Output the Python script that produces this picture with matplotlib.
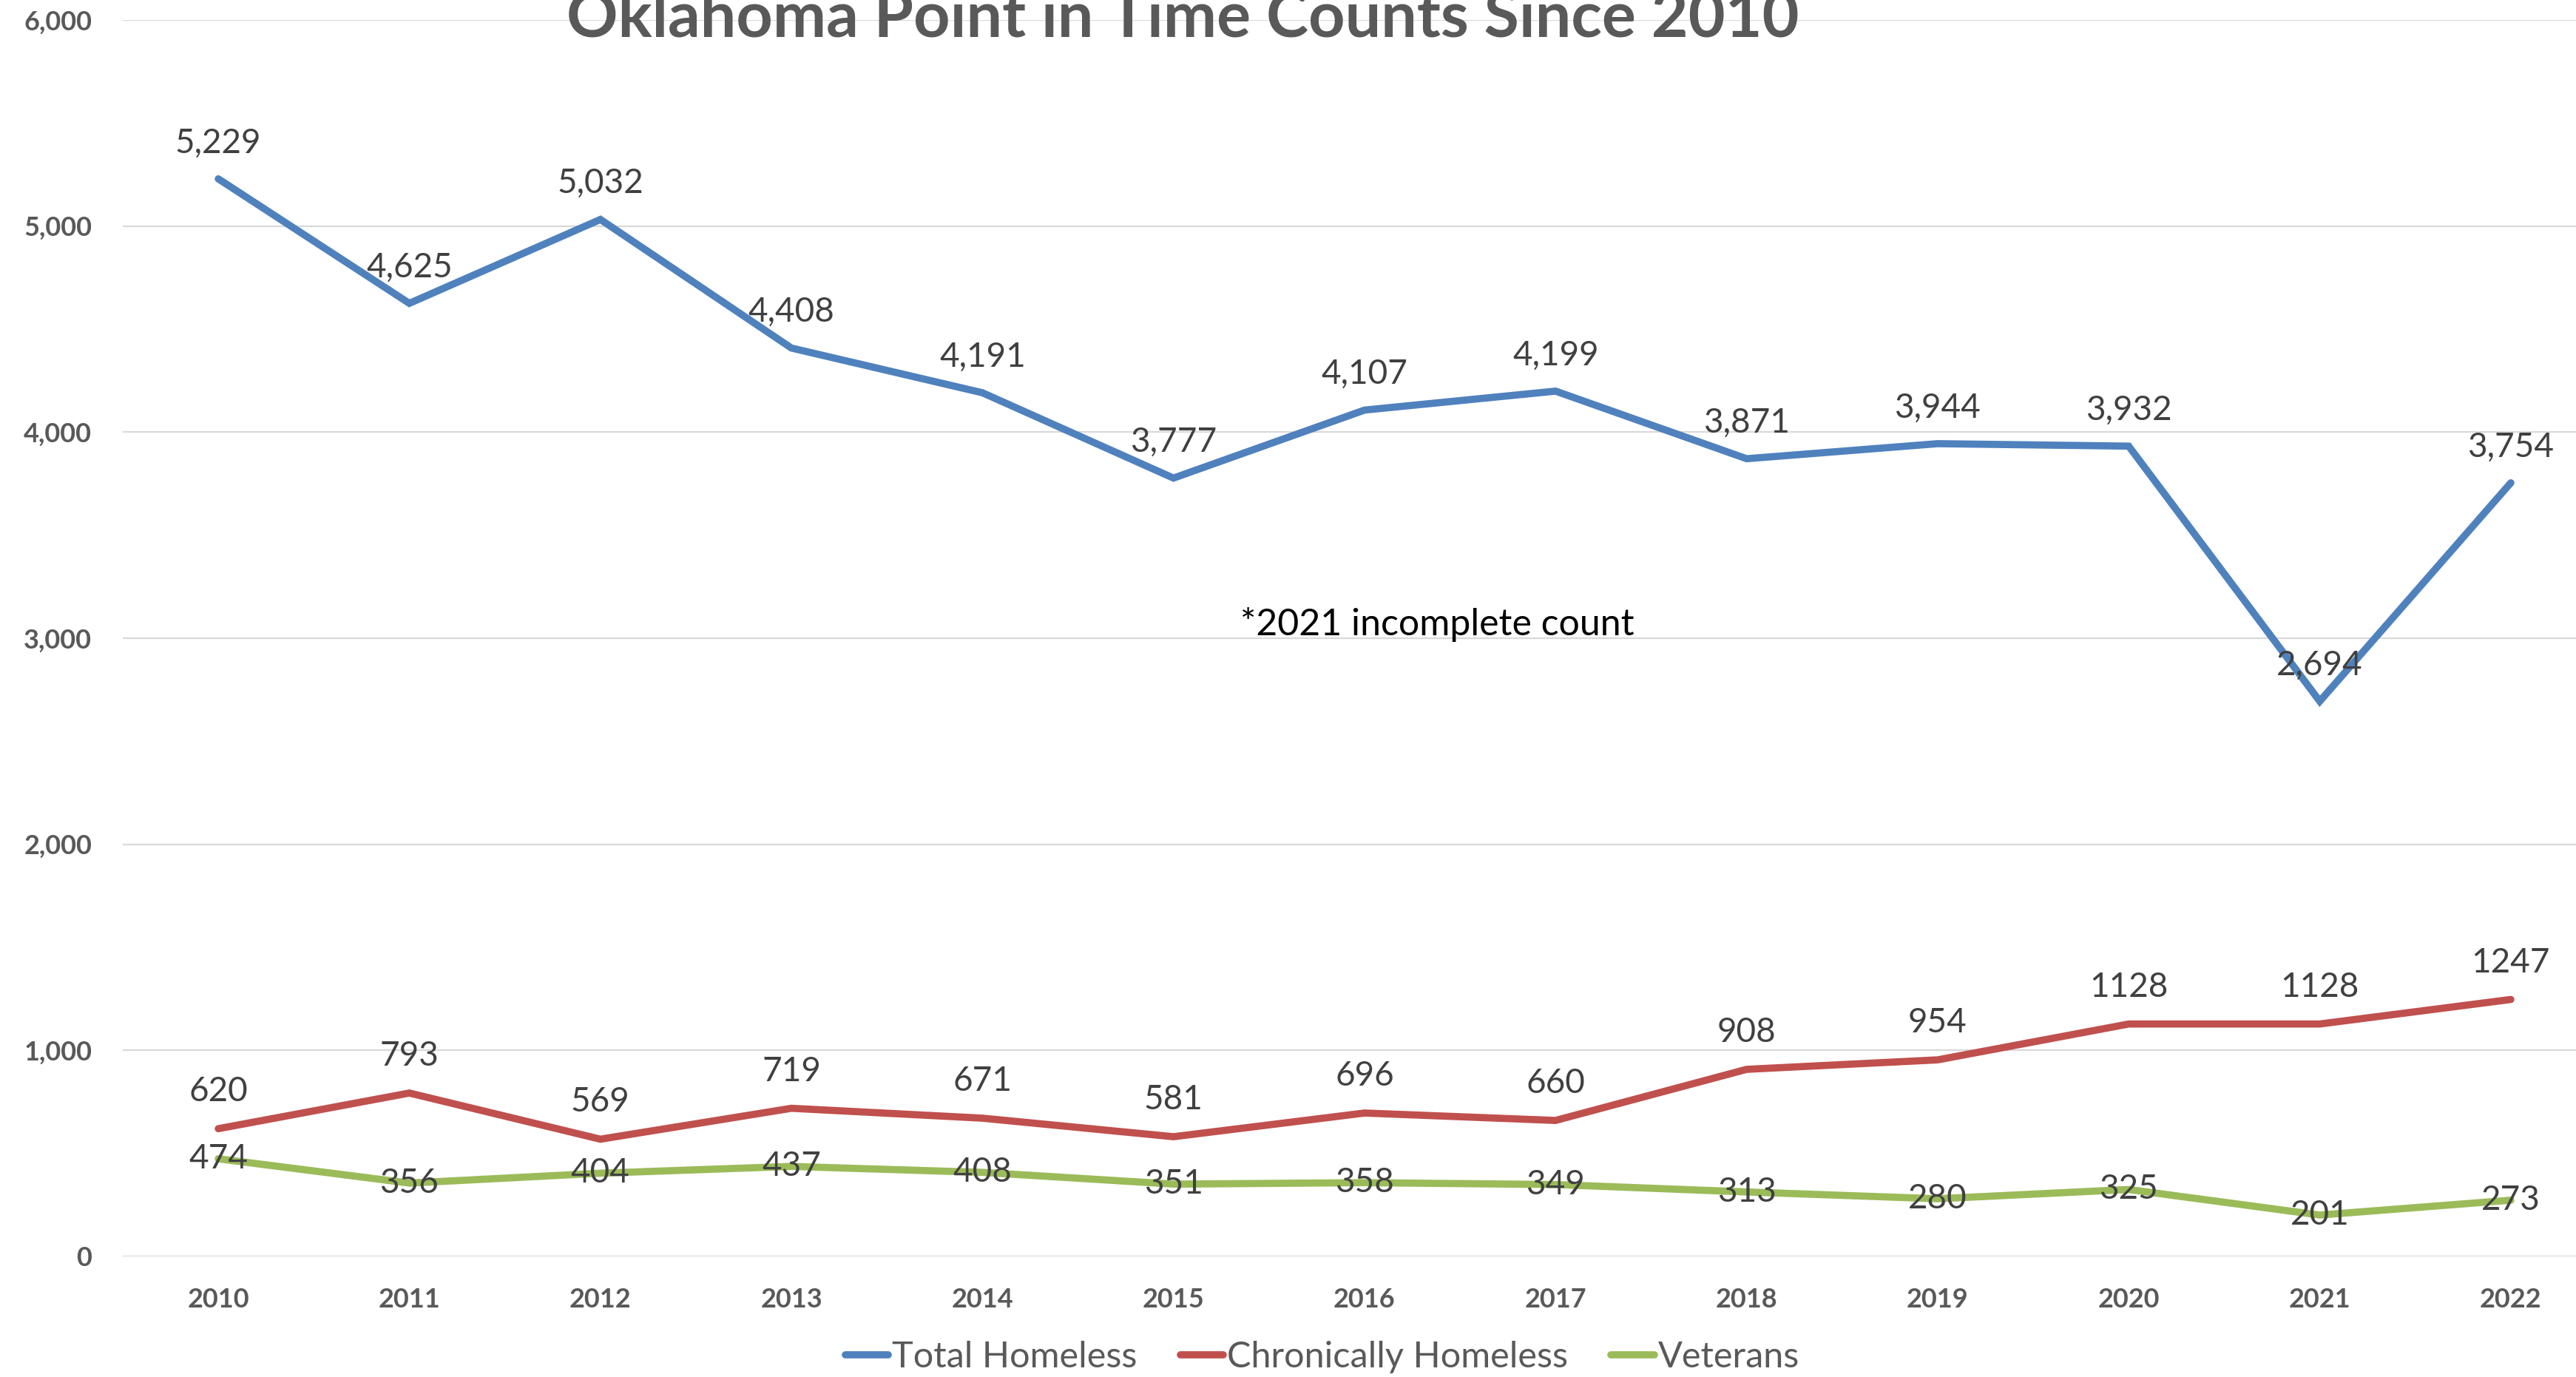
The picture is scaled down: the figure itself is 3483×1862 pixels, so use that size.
import numpy as np
import matplotlib
matplotlib.use("Agg")
import matplotlib.pyplot as plt

plt.rcParams['font.family'] = ['Lato', 'DejaVu Sans']

# data
years = ['2010', '2011', '2012', '2013', '2014', '2015', '2016',
         '2017', '2018', '2019', '2020', '2021', '2022']
total_homeless = [5229, 4625, 5032, 4408, 4191, 3777, 4107, 4199, 3871, 3944, 3932, 2694, 3754]
chronic_homeless = [620, 793, 569, 719, 671, 581, 696, 660, 908, 954, 1128, 1128, 1247]
veterans = [474, 356, 404, 437, 408, 351, 358, 349, 313, 280, 325, 201, 273]
y_ticks = [0, 1000, 2000, 3000, 4000, 5000, 6000]

title = 'Oklahoma Point in Time Counts Since 2010'
note = '*2021 incomplete count'

blue = '#4f81bd'
red = '#c0504d'
green = '#9bbb59'
label_col = '#404040'
axis_col = '#595959'

W, H = 3483, 1862
fig = plt.figure(figsize=(W / 100, H / 100), dpi=100)
ax = fig.add_axes([166 / W, 1 - 1699 / H, 3358 / W, (1699 - 27) / H])

x = np.arange(len(years))
lw = 7
ax.plot(x, total_homeless, color=blue, lw=lw, solid_capstyle='round',
        solid_joinstyle='miter', label='Total Homeless', zorder=3)
ax.plot(x, chronic_homeless, color=red, lw=lw, solid_capstyle='round',
        solid_joinstyle='miter', label='Chronically Homeless', zorder=3)
ax.plot(x, veterans, color=green, lw=lw, solid_capstyle='round',
        solid_joinstyle='miter', label='Veterans', zorder=3)

# data labels (total and chronic above the point, veterans centred)
lab_size = 33
for xi, v in zip(x, total_homeless):
    ax.annotate(f'{v:,}', (xi, v), xytext=(0, 35), textcoords='offset points',
                ha='center', va='center', fontsize=lab_size, color=label_col, zorder=4)
for xi, v in zip(x, chronic_homeless):
    ax.annotate(str(v), (xi, v), xytext=(0, 36), textcoords='offset points',
                ha='center', va='center', fontsize=lab_size, color=label_col, zorder=4)
for xi, v in zip(x, veterans):
    ax.annotate(str(v), (xi, v), xytext=(0, 0), textcoords='offset points',
                ha='center', va='center', fontsize=lab_size, color=label_col, zorder=4)

ax.text(5.35, 3068, note, ha='left', va='center', fontsize=36, color='black')

ax.set_xlim(-0.5, len(years) - 0.5)
ax.set_ylim(0, 6000)
ax.set_xticks(x)
ax.set_xticklabels(years, fontsize=26, fontweight='bold', color=axis_col)
ax.set_yticks(y_ticks)
ax.set_yticklabels([f'{t:,}' for t in y_ticks], fontsize=26, fontweight='bold', color=axis_col)
ax.tick_params(axis='x', length=0, pad=30)
ax.tick_params(axis='y', length=0, pad=30)
for s in ax.spines.values():
    s.set_visible(False)
ax.grid(axis='y', color='#d9d9d9', lw=1.6, zorder=0)
ax.set_axisbelow(True)

fig.text(1599 / W, 1 - 50 / H, title, ha='center', va='baseline',
         fontsize=62, fontweight='bold', color=axis_col)

leg = fig.legend(loc='center', bbox_to_anchor=(1788 / W, 1 - 1835 / H), ncol=3,
                 frameon=False, fontsize=35, handlelength=1.2, handletextpad=0.1,
                 columnspacing=1.2, labelcolor=axis_col, borderpad=0)

fig.savefig('out.png', dpi=100)
